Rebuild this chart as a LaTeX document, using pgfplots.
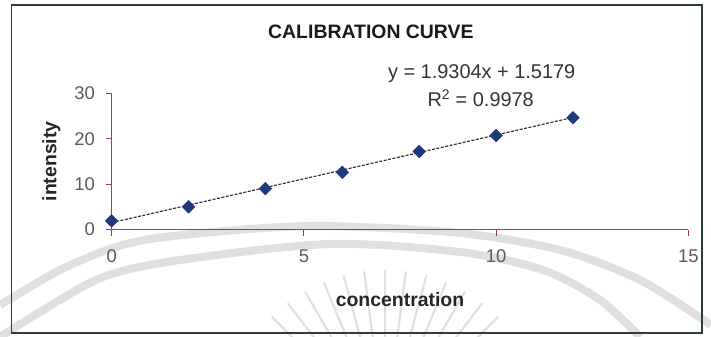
\documentclass[border=0pt]{standalone}
\usepackage{fontspec}
\setmainfont{Liberation Sans}
\usepackage{pgfplots}
\pgfplotsset{compat=1.18}
\definecolor{axred}{RGB}{160,60,75}
\definecolor{navy}{RGB}{31,58,122}
\definecolor{tickgray}{RGB}{90,90,90}
\definecolor{framecol}{RGB}{45,60,60}
\definecolor{wm}{RGB}{224,224,224}
\begin{document}
\begin{tikzpicture}
\useasboundingbox (-111.7bp,-107.5bp) rectangle (599.3bp,229.5bp);
\begin{scope}
\clip (-111.7bp,-107.5bp) rectangle (599.3bp,229.5bp);
\draw[wm, line width=8bp] plot[smooth] coordinates {(-111.7bp,-75.5bp) (-51.7bp,-40.5bp) (1.3bp,-18.5bp) (45.3bp,-8.5bp) (138.3bp,0.5bp) (218.3bp,3.5bp) (348.3bp,-3.5bp) (448.3bp,-20.5bp) (528.3bp,-50.5bp) (599.3bp,-95.5bp)};
\draw[wm, line width=8bp] plot[smooth] coordinates {(-111.7bp,-107.5bp) (-71.7bp,-82.5bp) (-8.7bp,-47.5bp) (68.3bp,-30.5bp) (218.3bp,-14.5bp) (348.3bp,-22.5bp) (431.3bp,-40.5bp) (488.3bp,-70.5bp) (528.3bp,-107.5bp)};
\foreach \a in {45,52.5,...,135} {
  \draw[wm, line width=2.2bp, shift={(273.3bp,-200.5bp)}] (\a:75bp) -- (\a:160bp);
}
\end{scope}
\draw[framecol, line width=1.5bp] (-100bp,224.5bp) rectangle (590.3bp,-103.5bp);
\node[anchor=base, font=\bfseries\fontsize{19.5}{22}\selectfont, text=black!90] at (259.2bp,191.2bp) {CALIBRATION CURVE};
\node[anchor=base, font=\fontsize{20}{22}\selectfont, text=black!80] at (370bp,151.2bp) {y = 1.9304x + 1.5179};
\node[anchor=base, font=\fontsize{20}{22}\selectfont, text=black!80] at (369bp,122.8bp) {R\textsuperscript{2} = 0.9978};
\begin{axis}[
  at={(0,0)}, anchor=south west,
  scale only axis, width=576.6bp, height=136.2bp,
  xmin=0, xmax=15, ymin=0, ymax=30,
  axis x line=bottom, axis y line=left,
  axis line style={axred, line width=1bp, -},
  xtick={0,5,10,15}, ytick={0,10,20,30},
  tick align=outside, major tick length=6bp,
  tick style={axred, line width=1bp},
  ticklabel style={font=\fontsize{18.5}{20}\selectfont, text=tickgray},
  /pgf/number format/assume math mode=true,
  xticklabel style={inner sep=0pt, yshift=-14bp},
  yticklabel style={inner sep=0pt, xshift=-10.7bp},
  xlabel={concentration}, ylabel={intensity},
  every axis x label/.style={at={([yshift=-76.5bp]axis description cs:0.5,0)}, anchor=base, font=\bfseries\fontsize{19.5}{22}\selectfont, text=black!85},
  every axis y label/.style={at={([xshift=-55.2bp]axis description cs:0,0.5)}, rotate=90, anchor=base, font=\bfseries\fontsize{19.5}{22}\selectfont, text=black!85},
  clip=false,
]
\addplot[black!85, line width=1.1bp, dash pattern=on 3bp off 1.5bp] coordinates {(0,1.5179) (12,24.6827)};
\addplot[only marks, mark=square*, mark size=4.5bp, mark options={rotate=45, fill=navy, draw=navy}] coordinates {
(0,1.9) (2,5.0) (4,9.0) (6,12.6) (8,17.2) (10,20.7) (12,24.6)};
\end{axis}
\end{tikzpicture}
\end{document}
